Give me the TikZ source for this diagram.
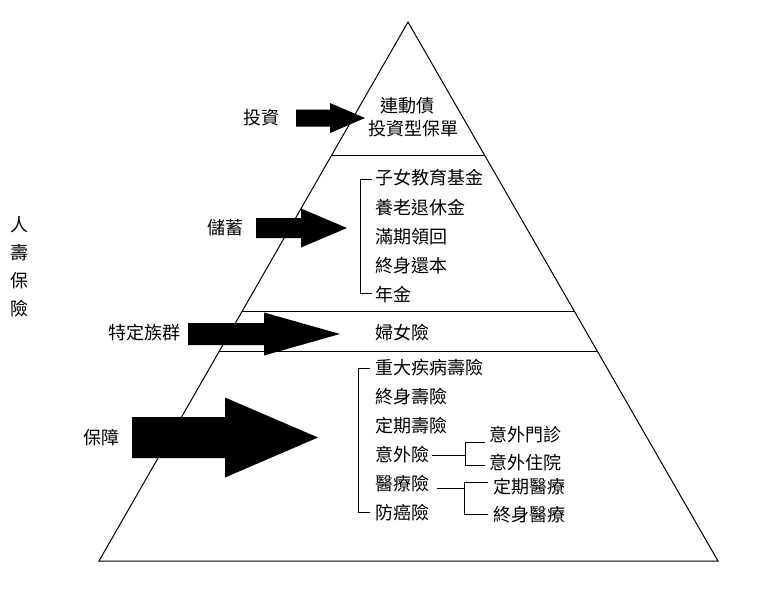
\documentclass[tikz,border=0pt]{standalone}
\usepackage{fontspec}
\setmainfont{Noto Sans CJK TC}
\usetikzlibrary{calc}
\newcommand\pyrarrow[6]{% x0 x1 x2 yc h1 h2
  \fill[black] (#1,#4-#5) -- (#2,#4-#5) -- (#2,#4-#6) -- (#3,#4) -- (#2,#4+#6) -- (#2,#4+#5) -- (#1,#4+#5) -- cycle;}
\begin{document}
\begin{tikzpicture}[x=1pt,y=-1pt,line width=1pt,
  lbl/.style={inner sep=0pt,font=\fontsize{18}{18}\selectfont},
  item/.style={lbl,anchor=west}]
\useasboundingbox[fill=white] (0,0) rectangle (768,592);
% pyramid
\coordinate (apex) at (408,22);
\coordinate (bl) at (99,561);
\coordinate (br) at (718,561);
\draw (apex) -- (bl) -- (br) -- cycle;
\draw ($(apex)!0.2468!(bl)$) -- ($(apex)!0.2468!(br)$);
\draw ($(apex)!0.5362!(bl)$) -- ($(apex)!0.5362!(br)$);
\draw ($(apex)!0.6122!(bl)$) -- ($(apex)!0.6122!(br)$);
% arrows
\pyrarrow{296}{330}{365}{118}{8.5}{15}
\pyrarrow{256}{301}{347}{228}{10}{19.5}
\pyrarrow{188}{264}{340}{334}{11}{21.5}
\pyrarrow{132}{225}{318}{437.5}{20.5}{40}
% side labels
\node[lbl] (inv) at (261.5,118) {投資};
\node[lbl] (sav) at (225,228) {儲蓄};
\node[lbl] (grp) at (144,333) {特定族群};
\node[lbl] (prot) at (101,438) {保障};
\node[lbl] (v1) at (19,225) {人};
\node[lbl] (v2) at (19,253) {壽};
\node[lbl] (v3) at (19,281) {保};
\node[lbl] (v4) at (19,309) {險};
% top
\node[lbl] (t1) at (407.5,106) {連動債};
\node[lbl] (t2) at (413.5,129) {投資型保單};
% savings list
\node[item] (s1) at (375,178) {子女教育基金};
\node[item] (s2) at (375,208) {養老退休金};
\node[item] (s3) at (375,237) {滿期領回};
\node[item] (s4) at (375,266) {終身還本};
\node[item] (s5) at (375,295) {年金};
\coordinate (b1t) at (360,179);
\coordinate (b1b) at (360,293);
\draw (372,179) -- (b1t) -- (b1b) -- (372,293);
% women
\node[item] (w1) at (375,333) {婦女險};
% protection list
\node[item] (p1) at (375,368) {重大疾病壽險};
\node[item] (p2) at (375,397) {終身壽險};
\node[item] (p3) at (375,426) {定期壽險};
\node[item] (p4) at (375,455) {意外險};
\node[item] (p5) at (375,484) {醫療險};
\node[item] (p6) at (375,513) {防癌險};
\coordinate (b2t) at (358,368);
\coordinate (b2b) at (358,512);
\draw (370,368) -- (b2t) -- (b2b) -- (370,512);
% accident branch
\node[item] (a1) at (489,435) {意外門診};
\node[item] (a2) at (489,463) {意外住院};
\coordinate (ja) at (465,455);
\draw (432,455) -- (ja);
\draw (485,442) -- (465,442) -- (465,465) -- (485,465);
% medical branch
\node[item] (m1) at (493,487) {定期醫療};
\node[item] (m2) at (493,515) {終身醫療};
\coordinate (jm) at (464,488);
\draw (437,488) -- (jm);
\draw (488,482) -- (464,482) -- (464,514) -- (488,514);
\end{tikzpicture}
\end{document}
